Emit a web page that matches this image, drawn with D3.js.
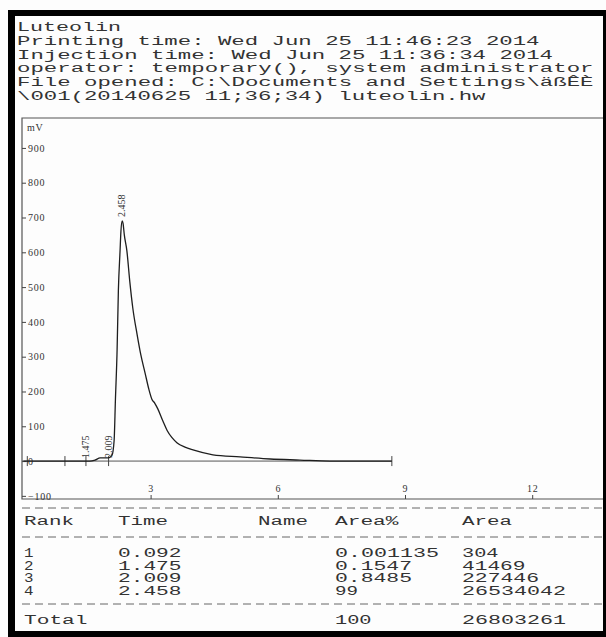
<!DOCTYPE html>
<html>
<head>
<meta charset="utf-8">
<script src="https://cdn.jsdelivr.net/npm/d3@7"></script>
<style>
  body { margin: 0; background: #fff; }
  svg { display: block; }
  .mono { font-family: "Liberation Mono", "DejaVu Sans Mono", monospace; font-size: 12.5px; fill: #333; }
  .ser { font-family: "Liberation Serif", "DejaVu Serif", serif; font-size: 10px; fill: #333; letter-spacing: 0.8px; }
</style>
</head>
<body>
<div id="chart"></div>
<script>
// header printed above the chromatogram
var headerLines = [
  "Luteolin",
  "Printing time: Wed Jun 25 11:46:23 2014",
  "Injection time: Wed Jun 25 11:36:34 2014",
  "operator: temporary(), system administrator",
  "File opened: C:\\Documents and Settings\\äßÊÈ",
  "\\001(20140625 11;36;34) luteolin.hw"
];

// axis ticks
var yTicks = [900, 800, 700, 600, 500, 400, 300, 200, 100, 0, -100];
var xTicks = [3, 6, 9, 12];

// detector trace (min, mV)
var traceTime = [0, 0.86, 1.57, 1.69, 1.81, 2.00, 2.09, 2.14, 2.17, 2.21, 2.24, 2.28, 2.30, 2.33, 2.35, 2.38,
  2.44, 2.51, 2.58, 2.68, 2.77, 2.87, 2.96, 3.03, 3.10, 3.17, 3.29, 3.39, 3.50, 3.62, 3.81, 4.00, 4.47, 5.11, 5.82, 6.52, 7.23, 8.69];
var traceMv = [0, 0, 0, 3, 9, 9, 17, 60, 175, 320, 490, 605, 660, 690, 683, 650,
  605, 515, 440, 365, 305, 253, 206, 178, 166, 150, 115, 88, 68, 53, 40, 32, 18, 12, 6, 3, 0, 0];

// event marks on the baseline
var markerTimes = [0.092, 0.98, 1.475, 2.009, 8.69];
var markerLabels = ["1.475", "2.009"];

// peak table
var tableHeader = ["Rank", "Time", "Name", "Area%", "Area"];
var peakRank = ["1", "2", "3", "4"];
var peakTime = ["0.092", "1.475", "2.009", "2.458"];
var peakAreaPct = ["0.001135", "0.1547", "0.8485", "99"];
var peakArea = ["304", "41469", "227446", "26534042"];
var totalRow = ["Total", "", "", "100", "26803261"];

var W = 606, H = 637;
var charW = 13.5;

var svg = d3.select("#chart").append("svg")
  .attr("width", W)
  .attr("height", H);

svg.append("rect").attr("width", W).attr("height", H).attr("fill", "#fdfdfd");

// stretched monospace text, like the scanned printout
function monoText(g, str, x, y) {
  if (!str) return;
  g.append("text")
    .attr("class", "mono")
    .attr("x", x)
    .attr("y", y)
    .attr("textLength", str.length * charW - 4)
    .attr("lengthAdjust", "spacingAndGlyphs")
    .text(str);
}

// header
var head = svg.append("g");
headerLines.forEach(function(s, i) {
  monoText(head, s, 17, 31 + i * 13.8);
});

// scales
var frame = { left: 22, top: 118, bottom: 499, right: 606 };

var x = d3.scaleLinear()
  .domain([0, 12])
  .range([23.4, 532.2]);

var y = d3.scaleLinear()
  .domain([-109, 986])
  .range([frame.bottom, frame.top]);

// frame
svg.append("path")
  .attr("d", `M${W},${frame.top}H${frame.left}V${frame.bottom}H${W}`)
  .attr("fill", "none")
  .attr("stroke", "#555")
  .attr("stroke-width", 1.2);

// y axis inside the frame
var leftAxis = d3.axisRight(y).tickValues(yTicks).tickSize(4).tickPadding(2);
var gy = svg.append("g")
  .attr("transform", `translate(${frame.left}, 0)`)
  .call(leftAxis);
gy.select(".domain").remove();
gy.selectAll("line").attr("stroke", "#444");
gy.selectAll("text").attr("class", "ser").attr("font-family", null).attr("font-size", null);

svg.append("text")
  .attr("class", "ser")
  .attr("x", 27)
  .attr("y", 131)
  .text("mV");

// bottom axis ticks pointing up
var bottomAxis = d3.axisTop(x).tickValues(xTicks).tickSize(4).tickPadding(3);
var gx = svg.append("g")
  .attr("transform", `translate(0, ${frame.bottom})`)
  .call(bottomAxis);
gx.select(".domain").remove();
gx.selectAll("line").attr("stroke", "#444");
gx.selectAll("text").attr("class", "ser").attr("font-family", null).attr("font-size", null);

// baseline at 0 mV
svg.append("line")
  .attr("x1", frame.left)
  .attr("x2", x(d3.max(markerTimes)))
  .attr("y1", y(0))
  .attr("y2", y(0))
  .attr("stroke", "#555")
  .attr("stroke-width", 1);

svg.selectAll(".mark")
  .data(markerTimes)
  .enter()
  .append("line")
  .attr("class", "mark")
  .attr("x1", d => x(d))
  .attr("x2", d => x(d))
  .attr("y1", y(0) - 5)
  .attr("y2", y(0) + 5)
  .attr("stroke", "#444");

// trace
var traceData = traceTime.map(function(t, i) { return { t: t, mv: traceMv[i] }; });

var line = d3.line()
  .x(d => x(d.t))
  .y(d => y(d.mv))
  .curve(d3.curveMonotoneX);

svg.append("path")
  .datum(traceData)
  .attr("d", line)
  .attr("fill", "none")
  .attr("stroke", "#1e1e1e")
  .attr("stroke-width", 1.3);

// retention time labels
svg.selectAll(".rt")
  .data(markerLabels)
  .enter()
  .append("text")
  .attr("class", "ser rt")
  .attr("transform", d => `translate(${x(+d) + 3}, ${y(0) - 3}) rotate(-90)`)
  .style("letter-spacing", "0px")
  .text(d => d);

var apex = traceData.reduce((a, b) => (b.mv > a.mv ? b : a));
svg.append("text")
  .attr("class", "ser")
  .attr("transform", `translate(${x(apex.t) + 3}, ${y(apex.mv) - 4}) rotate(-90)`)
  .style("letter-spacing", "0px")
  .text(peakTime[3]);

// table
var colX = [24, 118, 258, 335, 462];
var tbl = svg.append("g");

function dashed(yy) {
  tbl.append("line")
    .attr("x1", frame.left).attr("x2", W)
    .attr("y1", yy).attr("y2", yy)
    .attr("stroke", "#666")
    .attr("stroke-width", 1)
    .attr("stroke-dasharray", "8,5");
}

dashed(508);
tableHeader.forEach((s, i) => monoText(tbl, s, colX[i], 525));
dashed(537);
peakRank.forEach(function(r, i) {
  var row = [r, peakTime[i], "", peakAreaPct[i], peakArea[i]];
  row.forEach((s, j) => monoText(tbl, s, colX[j], 557 + i * 12.7));
});
dashed(604);
totalRow.forEach((s, j) => monoText(tbl, s, colX[j], 624));

// scan border
var border = svg.append("g").attr("fill", "#000");
border.append("rect").attr("x", 8).attr("y", 10).attr("width", W - 8).attr("height", 6);
border.append("rect").attr("x", 8).attr("y", 10).attr("width", 7).attr("height", H - 10);
border.append("rect").attr("x", 8).attr("y", H - 6).attr("width", W - 8).attr("height", 6);
border.append("rect").attr("x", W - 3).attr("y", 10).attr("width", 3).attr("height", H - 10);
</script>
</body>
</html>
